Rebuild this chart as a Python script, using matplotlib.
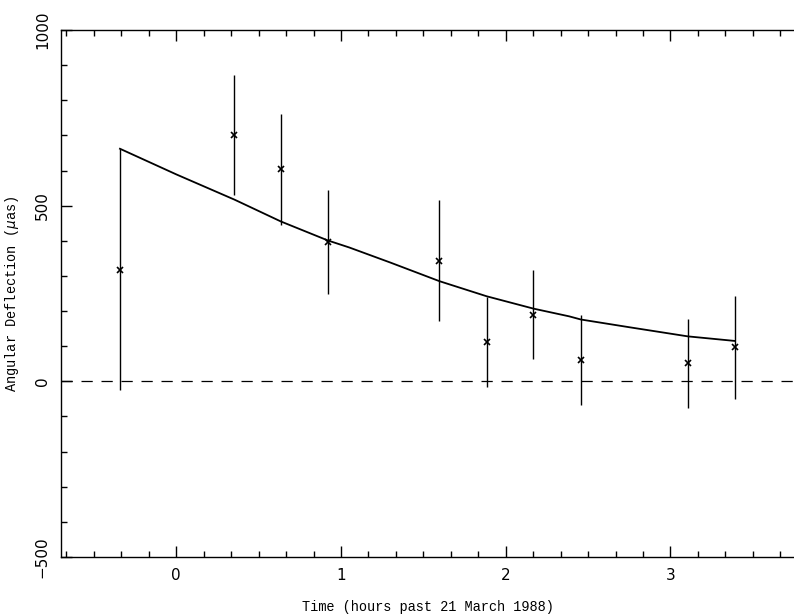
import numpy as np
import matplotlib.pyplot as plt
from matplotlib.ticker import MultipleLocator

# measured deflections (hours, micro-arcsec) with 1-sigma errors
t_obs = [-0.34, 0.352, 0.637, 0.922, 1.596, 1.889, 2.168, 2.458, 3.109, 3.392]
defl = [317, 702, 604, 396, 343, 112, 190, 61, 51, 97]
err = [343, 171, 158, 148, 172, 128, 127, 127, 127, 147]

# model curve
t_mod = [-0.342, 0.0, 0.354, 0.635, 0.92, 1.05, 1.3, 1.598, 1.885, 2.168, 2.385, 2.456, 2.75, 3.105, 3.39]
y_mod = [662, 589, 517, 455, 401, 381, 338, 285, 242, 207, 185, 176, 154, 128, 115]

fig = plt.figure(figsize=(7.94, 6.15), dpi=100)
ax = fig.add_axes([61/794, 1 - 557/615, 1 - 61/794, (557 - 30)/615])

ax.axhline(0, color='black', lw=0.9, dashes=(9, 7))
ax.plot(t_mod, y_mod, color='black', lw=1.3)
ax.errorbar(t_obs, defl, yerr=err, fmt='none', ecolor='black', elinewidth=1.0, capsize=0)
ax.plot(t_obs, defl, 'x', color='black', ms=4, mew=1.2)

ax.set_xlim(-0.7, 3.75)
ax.set_ylim(-500, 1000)
ax.xaxis.set_major_locator(MultipleLocator(1))
ax.xaxis.set_minor_locator(MultipleLocator(1/6))
ax.yaxis.set_major_locator(MultipleLocator(500))
ax.yaxis.set_minor_locator(MultipleLocator(100))
ax.tick_params(which='both', direction='in', top=True, right=False, width=1.0,
               labelsize=11)
ax.tick_params(which='major', length=8, pad=8)
ax.tick_params(which='minor', length=4)
ax.spines['right'].set_visible(False)
for s in ['left', 'top', 'bottom']:
    ax.spines[s].set_linewidth(1.0)
for lab in ax.get_yticklabels():
    lab.set_rotation(90)
    lab.set_va('center')

ax.set_xlabel('Time (hours past 21 March 1988)', family='Liberation Mono', fontsize=9.8, labelpad=12)
ax.set_ylabel(r'Angular Deflection ($\mu$as)', family='Liberation Mono', fontsize=9.8, labelpad=10)

fig.savefig('out.png', dpi=100)
